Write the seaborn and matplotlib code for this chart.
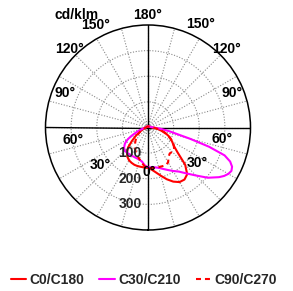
import numpy as np
import pandas as pd
import matplotlib
matplotlib.use("Agg")
import matplotlib.pyplot as plt
import seaborn as sns

sns.set_theme(style="white")
plt.rcParams['font.family'] = ['Liberation Sans', 'DejaVu Sans']
plt.rcParams['font.weight'] = 'bold'

# gamma angles (deg) and luminous intensity (cd/klm)
gamma = [0, 5, 10, 15, 20, 25, 30, 35, 40, 45, 50, 55, 57.5, 60, 62.5, 65, 67.5, 70, 72.5, 75,
         80, 85, 90, 105, 120, 135, 150, 165, 180]
c0 = [158, 165, 178, 195, 215, 233, 246, 248, 238, 205, 150, 122, 115, 108, 101, 95, 87, 78, 69, 60,
      42, 28, 16, 8, 6, 5, 5, 5, 5]
c180 = [158, 157, 156, 156, 155, 152, 148, 140, 128, 110, 82, 60, 50, 42, 36, 30, 26, 22, 19, 16,
        12, 10, 8, 6, 5, 5, 5, 5, 5]
c30 = [155, 156, 158, 163, 172, 183, 196, 210, 234, 265, 305, 338, 352, 362, 367, 362, 347, 318, 250, 170,
       85, 45, 22, 10, 7, 6, 5, 5, 5]
c210 = [155, 148, 135, 130, 128, 127, 127, 127, 128, 128, 122, 110, 101, 90, 76, 62, 50, 40, 32, 26,
        18, 13, 10, 7, 6, 5, 5, 5, 5]
c90 = [158, 159, 160, 160, 161, 163, 157, 140, 132, 134, 133, 123, 117, 110, 102, 94, 85, 76, 68, 60,
       44, 30, 18, 8, 6, 5, 5, 5, 5]
c270 = [158, 152, 140, 128, 119, 110, 100, 88, 78, 68, 58, 48, 43, 38, 34, 30, 26, 23, 20, 18,
        13, 10, 8, 6, 5, 5, 5, 5, 5]

planes = ["C0/C180", "C30/C210", "C90/C270"]
halves = {"C0/C180": (c0, c180), "C30/C210": (c30, c210), "C90/C270": (c90, c270)}

rows = []
for name in planes:
    right, left = halves[name]
    # left half goes on negative angles, right half on positive
    for g, v in zip(gamma[::-1], left[::-1]):
        if g > 0:
            rows.append((np.radians(-g), v, name))
    for g, v in zip(gamma, right):
        rows.append((np.radians(g), v, name))
df = pd.DataFrame(rows, columns=["theta", "I", "plane"])

fig = plt.figure(figsize=(2.93, 2.91), dpi=100)
ax = fig.add_axes([45.5 / 293, 61 / 291, 205 / 293, 205 / 291], projection="polar")
ax.set_theta_zero_location("S")
ax.set_theta_direction(1)
ax.set_ylim(0, 400)
ax.set_xticks(np.radians(np.arange(0, 360, 15)))
ax.set_xticklabels([])
ax.set_yticks([100, 200, 300])
ax.set_yticklabels([])
ax.grid(True, color="#8a8a8a", linestyle=(0, (1, 1.5)), linewidth=0.8)
ax.spines["polar"].set_color("black")
ax.spines["polar"].set_linewidth(1.1)

for t in [0, 90, 180, 270]:
    ax.plot([np.radians(t)] * 2, [0, 400], color="black", lw=1.0, zorder=2)

sns.lineplot(data=df, x="theta", y="I", hue="plane", style="plane",
             hue_order=planes, style_order=planes,
             palette={"C0/C180": "#ff0000", "C30/C210": "#ff00ff", "C90/C270": "#ff0000"},
             dashes={"C0/C180": "", "C30/C210": "", "C90/C270": (2.4, 1.9)},
             estimator=None, sort=False, lw=1.5, ax=ax, zorder=3)
ax.set_xlabel("")
ax.set_ylabel("")

handles, labels = ax.get_legend_handles_labels()
ax.get_legend().remove()
fig.legend(handles, labels, loc="center", bbox_to_anchor=(0.491, 11 / 291), ncol=3,
           frameon=False, fontsize=10, handlelength=1.1, handletextpad=0.25,
           columnspacing=1.1, borderaxespad=0)

# angle labels (theta deg, r)
ang_labels = [("180°", 180, 439), ("150°", -153, 450), ("150°", 153, 452),
              ("120°", -135, 432), ("120°", 135, 435), ("90°", -112.6, 351),
              ("90°", 112.3, 355), ("60°", -80.5, 297), ("60°", 81.2, 292),
              ("30°", -52, 238), ("30°", 54, 236), ("0°", 1, 172)]
for s, t, r in ang_labels:
    ax.text(np.radians(t), r, s, ha="center", va="center", fontsize=10,
            fontweight="bold", color="black", zorder=5, clip_on=False)
ax.text(np.radians(-147.4), 521, "cd/klm", ha="center", va="center", fontsize=10,
        fontweight="bold", color="black", clip_on=False)

for r in [100, 200, 300]:
    ax.annotate(str(r), xy=(0, r), xytext=(-4.5, 0), textcoords="offset points",
                ha="right", va="center", fontsize=10, fontweight="bold", zorder=5)

fig.savefig("out.png", dpi=100)
